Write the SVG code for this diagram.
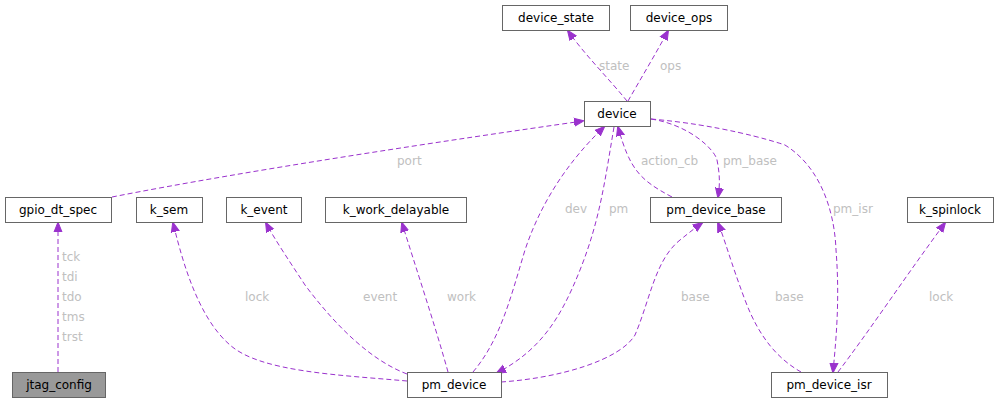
<svg xmlns="http://www.w3.org/2000/svg" width="1003" height="404" viewBox="0 0 1003 404">
<style>
.n rect{fill:#fff;stroke:#666;stroke-width:1}
.n text{font-family:"DejaVu Sans",sans-serif;font-size:12px;fill:#000;text-anchor:middle}
.e path{fill:none;stroke:#9a32cd;stroke-width:1;stroke-dasharray:5,3;marker-end:url(#a)}
.l{font-family:"DejaVu Sans",sans-serif;font-size:12px;fill:#c0c0c0}
</style>
<defs><marker id="a" viewBox="0 0 10 10" refX="9" refY="5" markerWidth="10" markerHeight="10" markerUnits="userSpaceOnUse" orient="auto"><path d="M0,1 L10,5 L0,9 z" fill="#9a32cd" stroke="#9a32cd"/></marker></defs>
<rect width="1003" height="404" fill="#fff"/>
<g id="edges" class="e">
<path d="M627,101 C610,80 585,55 568,31"/>
<path d="M628,101 C640,80 655,55 668,31"/>
<path d="M112,197 C250,170 450,140 583,121"/>
<path d="M58,372 L58,223"/>
<path d="M407,381 C340,375 260,372 230,345 C195,315 180,250 173,223"/>
<path d="M407,374 C370,360 335,325 305,285 C290,262 275,240 266,223"/>
<path d="M448,372 C435,325 415,265 402,223"/>
<path d="M473,372 C500,340 510,300 525,250 C545,190 580,150 604,127"/>
<path d="M614,127 C605,180 600,220 580,270 C560,320 540,350 497,373"/>
<path d="M501,382 C560,378 620,360 635,335 C650,300 655,260 680,240 C690,232 695,228 702,223"/>
<path d="M672,197 C640,180 630,170 618,127"/>
<path d="M651,119 C690,125 715,150 717,160 C720,175 720,185 718,197"/>
<path d="M651,119 C720,125 770,140 785,145 C825,170 835,220 836,250 C840,300 836,340 833,372"/>
<path d="M801,372 C780,360 760,340 745,300 C730,260 725,240 718,223"/>
<path d="M838,372 C870,330 910,270 945,223"/>
</g>
<g id="labels" class="l">
<text x="599" y="70">state</text>
<text x="660" y="70">ops</text>
<text x="397" y="165">port</text>
<text x="62" y="261">tck</text>
<text x="62" y="281">tdi</text>
<text x="62" y="301">tdo</text>
<text x="62" y="321">tms</text>
<text x="62" y="341">trst</text>
<text x="245" y="301">lock</text>
<text x="363" y="301">event</text>
<text x="447" y="301">work</text>
<text x="565" y="213">dev</text>
<text x="609" y="213">pm</text>
<text x="641" y="165">action_cb</text>
<text x="723" y="165">pm_base</text>
<text x="833" y="213">pm_isr</text>
<text x="681" y="301">base</text>
<text x="775" y="301">base</text>
<text x="929" y="301">lock</text>
</g>
<g id="device_state" class="n"><rect x="502.5" y="5.5" width="107" height="25"/><text x="556" y="22">device_state</text></g>
<g id="device_ops" class="n"><rect x="630.5" y="5.5" width="97" height="25"/><text x="679" y="22">device_ops</text></g>
<g id="device" class="n"><rect x="584.5" y="101.5" width="66" height="25"/><text x="617" y="118">device</text></g>
<g id="gpio_dt_spec" class="n"><rect x="5.5" y="197.5" width="106" height="25"/><text x="58" y="214">gpio_dt_spec</text></g>
<g id="k_sem" class="n"><rect x="136.5" y="197.5" width="66" height="25"/><text x="169" y="214">k_sem</text></g>
<g id="k_event" class="n"><rect x="226.5" y="197.5" width="75" height="25"/><text x="264" y="214">k_event</text></g>
<g id="k_work_delayable" class="n"><rect x="325.5" y="197.5" width="141" height="25"/><text x="396" y="214">k_work_delayable</text></g>
<g id="pm_device_base" class="n"><rect x="650.5" y="197.5" width="131" height="25"/><text x="716" y="214">pm_device_base</text></g>
<g id="k_spinlock" class="n"><rect x="907.5" y="197.5" width="86" height="25"/><text x="950" y="214">k_spinlock</text></g>
<g id="jtag_config" class="n"><rect x="12.5" y="372.5" width="93" height="25" style="fill:#999"/><text x="59" y="389">jtag_config</text></g>
<g id="pm_device" class="n"><rect x="407.5" y="372.5" width="94" height="25"/><text x="454" y="389">pm_device</text></g>
<g id="pm_device_isr" class="n"><rect x="771.5" y="372.5" width="116" height="25"/><text x="829" y="389">pm_device_isr</text></g>
</svg>
